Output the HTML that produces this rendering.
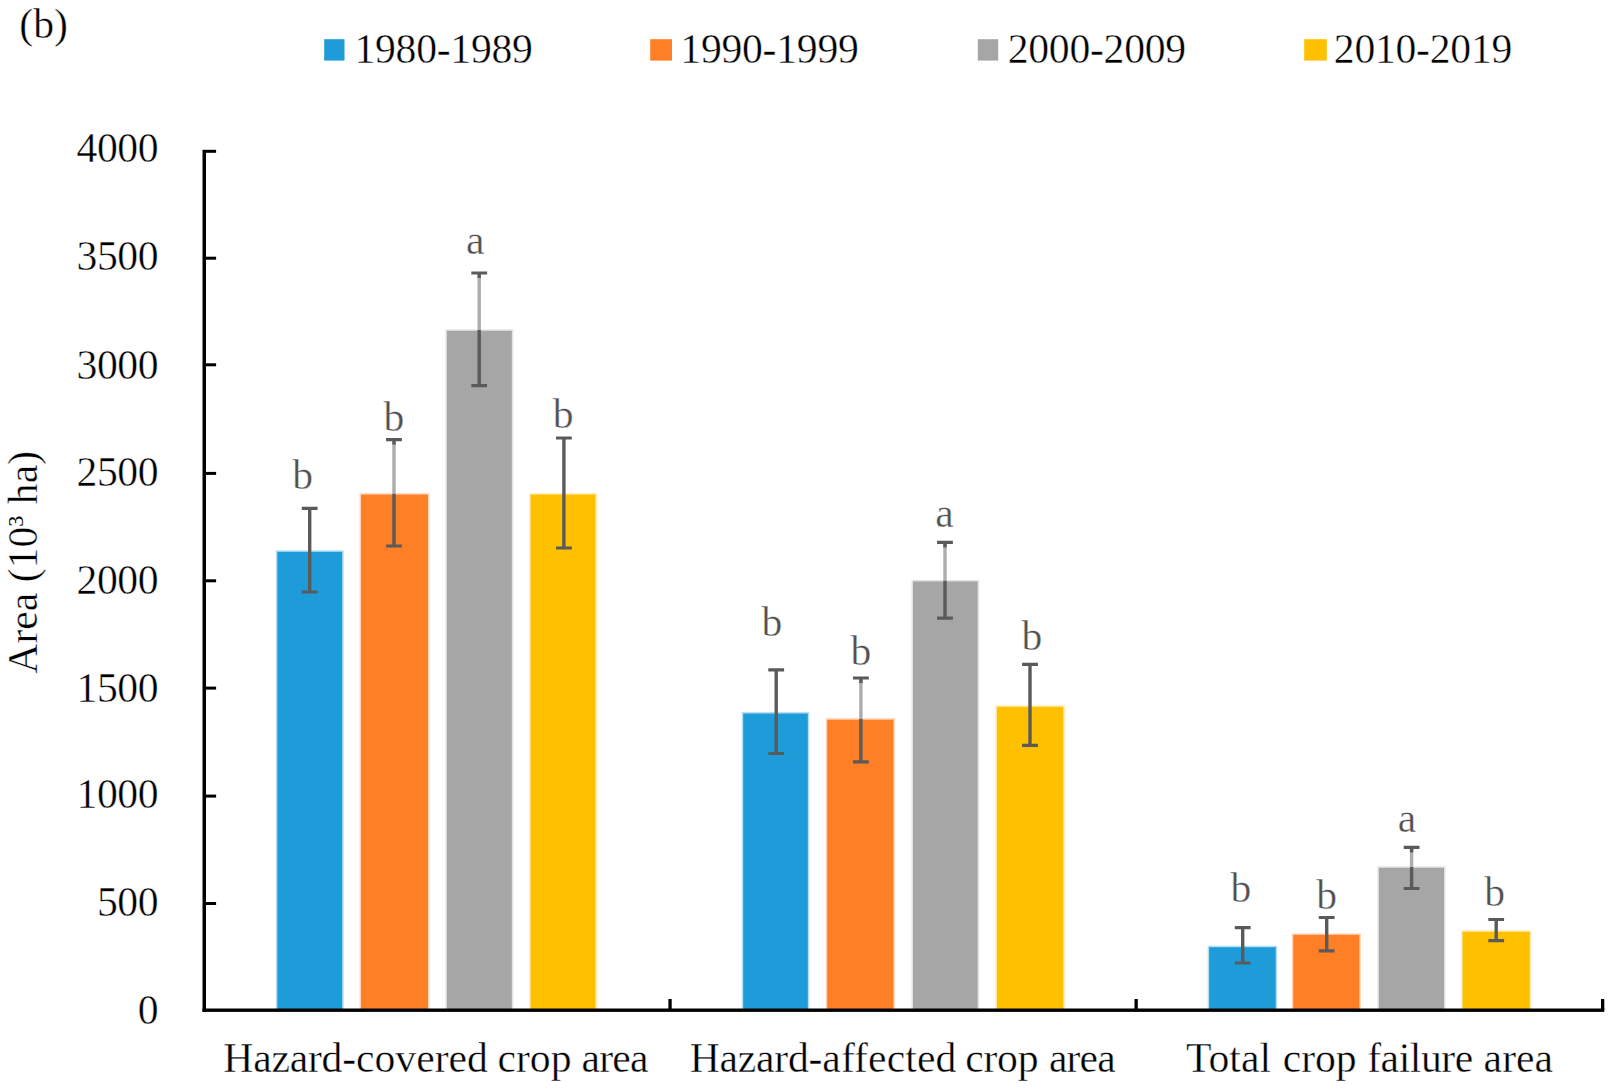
<!DOCTYPE html>
<html lang="en"><head><meta charset="utf-8"><title>Crop area by decade (b)</title>
<style>html,body{margin:0;padding:0;background:#fff;}body{width:1619px;height:1091px;overflow:hidden;}svg{display:block;}text{font-family:"Liberation Serif", "Times New Roman", serif;font-size:41.67px;fill:#000;stroke:#fff;stroke-width:0.4px;}.lb{fill:#505050;}</style></head><body>
<svg width="1619" height="1091" viewBox="0 0 1619 1091">
<rect x="0" y="0" width="1619" height="1091" fill="#fff"/>
<text x="19.3" y="38.2">(b)</text>
<rect x="324.2" y="39.2" width="20.3" height="21.4" fill="#1E9CD9"/>
<text x="354.4" y="62.6" style="letter-spacing:-0.25px">1980-1989</text>
<rect x="650.2" y="39.2" width="21.8" height="21.4" fill="#FF7F27"/>
<text x="680.3" y="62.6" style="letter-spacing:-0.25px">1990-1999</text>
<rect x="977.8" y="39.2" width="20.4" height="21.4" fill="#A6A6A6"/>
<text x="1007.7" y="62.6" style="letter-spacing:-0.25px">2000-2009</text>
<rect x="1304.2" y="39.2" width="22.6" height="21.4" fill="#FFC000"/>
<text x="1333.8" y="62.6" style="letter-spacing:-0.25px">2010-2019</text>
<rect x="277.3" y="551.8" width="64.9" height="457.6" fill="#1E9CD9" stroke="#1E9CD9" stroke-opacity="0.32" stroke-width="3"/>
<rect x="361.0" y="494.6" width="67.0" height="514.8" fill="#FF7F27" stroke="#FF7F27" stroke-opacity="0.32" stroke-width="3"/>
<rect x="446.9" y="330.8" width="64.9" height="678.6" fill="#A6A6A6" stroke="#A6A6A6" stroke-opacity="0.32" stroke-width="3"/>
<rect x="530.6" y="494.6" width="64.8" height="514.8" fill="#FFC000" stroke="#FFC000" stroke-opacity="0.32" stroke-width="3"/>
<rect x="743.2" y="713.5" width="64.6" height="295.9" fill="#1E9CD9" stroke="#1E9CD9" stroke-opacity="0.32" stroke-width="3"/>
<rect x="827.2" y="719.7" width="66.2" height="289.7" fill="#FF7F27" stroke="#FF7F27" stroke-opacity="0.32" stroke-width="3"/>
<rect x="913.0" y="581.5" width="64.6" height="427.9" fill="#A6A6A6" stroke="#A6A6A6" stroke-opacity="0.32" stroke-width="3"/>
<rect x="996.9" y="706.8" width="66.4" height="302.6" fill="#FFC000" stroke="#FFC000" stroke-opacity="0.32" stroke-width="3"/>
<rect x="1209.1" y="947.2" width="66.6" height="62.2" fill="#1E9CD9" stroke="#1E9CD9" stroke-opacity="0.32" stroke-width="3"/>
<rect x="1293.2" y="934.8" width="66.2" height="74.6" fill="#FF7F27" stroke="#FF7F27" stroke-opacity="0.32" stroke-width="3"/>
<rect x="1378.9" y="867.8" width="65.1" height="141.6" fill="#A6A6A6" stroke="#A6A6A6" stroke-opacity="0.32" stroke-width="3"/>
<rect x="1462.6" y="931.8" width="67.2" height="77.6" fill="#FFC000" stroke="#FFC000" stroke-opacity="0.32" stroke-width="3"/>
<path d="M309.7 508.4V592.0" fill="none" stroke="#5a5a5a" stroke-width="3.4"/>
<path d="M301.8 508.4H317.6M301.8 592.0H317.6" fill="none" stroke="#5a5a5a" stroke-width="3.2"/>
<path d="M394.0 439.6V493.8" fill="none" stroke="#adadad" stroke-width="3.4"/>
<path d="M394.0 439.6V444.6" fill="none" stroke="#5a5a5a" stroke-width="3.4"/>
<path d="M394.0 493.8V546.0" fill="none" stroke="#5a5a5a" stroke-width="3.4"/>
<path d="M386.1 439.6H401.9M386.1 546.0H401.9" fill="none" stroke="#5a5a5a" stroke-width="3.2"/>
<path d="M479.2 273.0V330.0" fill="none" stroke="#adadad" stroke-width="3.4"/>
<path d="M479.2 273.0V278.0" fill="none" stroke="#5a5a5a" stroke-width="3.4"/>
<path d="M479.2 330.0V385.6" fill="none" stroke="#5a5a5a" stroke-width="3.4"/>
<path d="M471.3 273.0H487.1M471.3 385.6H487.1" fill="none" stroke="#5a5a5a" stroke-width="3.2"/>
<path d="M563.9 438.0V548.0" fill="none" stroke="#5a5a5a" stroke-width="3.4"/>
<path d="M556.0 438.0H571.8M556.0 548.0H571.8" fill="none" stroke="#5a5a5a" stroke-width="3.2"/>
<path d="M776.2 669.9V753.5" fill="none" stroke="#5a5a5a" stroke-width="3.4"/>
<path d="M768.3 669.9H784.1M768.3 753.5H784.1" fill="none" stroke="#5a5a5a" stroke-width="3.2"/>
<path d="M860.9 678.0V718.9" fill="none" stroke="#adadad" stroke-width="3.4"/>
<path d="M860.9 678.0V683.0" fill="none" stroke="#5a5a5a" stroke-width="3.4"/>
<path d="M860.9 718.9V761.9" fill="none" stroke="#5a5a5a" stroke-width="3.4"/>
<path d="M853.0 678.0H868.8M853.0 761.9H868.8" fill="none" stroke="#5a5a5a" stroke-width="3.2"/>
<path d="M945.0 542.4V580.7" fill="none" stroke="#adadad" stroke-width="3.4"/>
<path d="M945.0 542.4V547.4" fill="none" stroke="#5a5a5a" stroke-width="3.4"/>
<path d="M945.0 580.7V618.1" fill="none" stroke="#5a5a5a" stroke-width="3.4"/>
<path d="M937.1 542.4H952.9M937.1 618.1H952.9" fill="none" stroke="#5a5a5a" stroke-width="3.2"/>
<path d="M1030.0 664.4V745.3" fill="none" stroke="#5a5a5a" stroke-width="3.4"/>
<path d="M1022.1 664.4H1037.9M1022.1 745.3H1037.9" fill="none" stroke="#5a5a5a" stroke-width="3.2"/>
<path d="M1242.7 927.6V963.0" fill="none" stroke="#5a5a5a" stroke-width="3.4"/>
<path d="M1234.8 927.6H1250.6M1234.8 963.0H1250.6" fill="none" stroke="#5a5a5a" stroke-width="3.2"/>
<path d="M1326.7 917.5V950.8" fill="none" stroke="#5a5a5a" stroke-width="3.4"/>
<path d="M1318.8 917.5H1334.6M1318.8 950.8H1334.6" fill="none" stroke="#5a5a5a" stroke-width="3.2"/>
<path d="M1411.6 847.4V867.0" fill="none" stroke="#adadad" stroke-width="3.4"/>
<path d="M1411.6 847.4V852.4" fill="none" stroke="#5a5a5a" stroke-width="3.4"/>
<path d="M1411.6 867.0V888.5" fill="none" stroke="#5a5a5a" stroke-width="3.4"/>
<path d="M1403.7 847.4H1419.5M1403.7 888.5H1419.5" fill="none" stroke="#5a5a5a" stroke-width="3.2"/>
<path d="M1496.2 919.5V940.6" fill="none" stroke="#5a5a5a" stroke-width="3.4"/>
<path d="M1488.3 919.5H1504.1M1488.3 940.6H1504.1" fill="none" stroke="#5a5a5a" stroke-width="3.2"/>
<text class="lb" x="302.7" y="489.0" text-anchor="middle">b</text>
<text class="lb" x="393.8" y="431.3" text-anchor="middle">b</text>
<text class="lb" x="475.2" y="254.2" text-anchor="middle">a</text>
<text class="lb" x="563.2" y="428.2" text-anchor="middle">b</text>
<text class="lb" x="771.8" y="636.4" text-anchor="middle">b</text>
<text class="lb" x="860.9" y="664.7" text-anchor="middle">b</text>
<text class="lb" x="944.6" y="527.0" text-anchor="middle">a</text>
<text class="lb" x="1032.0" y="649.6" text-anchor="middle">b</text>
<text class="lb" x="1241.0" y="901.5" text-anchor="middle">b</text>
<text class="lb" x="1326.7" y="908.8" text-anchor="middle">b</text>
<text class="lb" x="1407.0" y="832.0" text-anchor="middle">a</text>
<text class="lb" x="1494.7" y="905.9" text-anchor="middle">b</text>
<g fill="#000">
<rect x="202.5" y="149.8" width="3.5" height="862"/>
<rect x="202.5" y="1008.5" width="1401.8" height="3.4"/>
<rect x="206" y="149.8" width="10.1" height="3"/>
<rect x="206" y="256.7" width="10.1" height="3"/>
<rect x="206" y="363.3" width="10.1" height="3"/>
<rect x="206" y="471.9" width="10.1" height="3"/>
<rect x="206" y="579.3" width="10.1" height="3"/>
<rect x="206" y="686.6" width="10.1" height="3"/>
<rect x="206" y="794.6" width="10.1" height="3"/>
<rect x="206" y="902.0" width="10.1" height="3"/>
<rect x="668.4" y="999" width="3.3" height="11"/>
<rect x="1134.5" y="999" width="3.3" height="11"/>
<rect x="1601.0" y="999" width="3.3" height="11"/>
</g>
<text x="158.2" y="162.3" text-anchor="end" style="letter-spacing:-0.4px">4000</text>
<text x="158.2" y="270.4" text-anchor="end" style="letter-spacing:-0.4px">3500</text>
<text x="158.2" y="379.0" text-anchor="end" style="letter-spacing:-0.4px">3000</text>
<text x="158.2" y="485.9" text-anchor="end" style="letter-spacing:-0.4px">2500</text>
<text x="158.2" y="594.1" text-anchor="end" style="letter-spacing:-0.4px">2000</text>
<text x="158.2" y="702.2" text-anchor="end" style="letter-spacing:-0.4px">1500</text>
<text x="158.2" y="808.2" text-anchor="end" style="letter-spacing:-0.4px">1000</text>
<text x="158.2" y="916.2" text-anchor="end" style="letter-spacing:-0.4px">500</text>
<text x="158.2" y="1024.2" text-anchor="end" style="letter-spacing:-0.4px">0</text>
<text transform="translate(37 562.3) rotate(-90)" text-anchor="middle">Area (10<tspan style="font-size:22px;stroke:none" dy="-14.5">3</tspan><tspan dy="14.5" dx="1.2"> ha)</tspan></text>
<text y="1071.6" style="white-space:pre"><tspan x="223.3" style="letter-spacing:-0.22px">Hazard-</tspan><tspan x="356.0">covered </tspan><tspan x="497.5">crop </tspan><tspan x="581.4" style="letter-spacing:-0.75px">area</tspan></text>
<text y="1071.6" style="white-space:pre"><tspan x="689.7" style="letter-spacing:-0.22px">Hazard-</tspan><tspan x="822.3" style="letter-spacing:0.10px">affected </tspan><tspan x="965.2" style="letter-spacing:-0.25px">crop </tspan><tspan x="1048.9" style="letter-spacing:-0.85px">area</tspan></text>
<text y="1071.6" style="white-space:pre"><tspan x="1186.0">Total </tspan><tspan x="1282.7" style="letter-spacing:-0.05px">crop </tspan><tspan x="1367.2" style="letter-spacing:-0.45px">failure </tspan><tspan x="1483.6" style="letter-spacing:0.05px">area</tspan></text>
</svg></body></html>
